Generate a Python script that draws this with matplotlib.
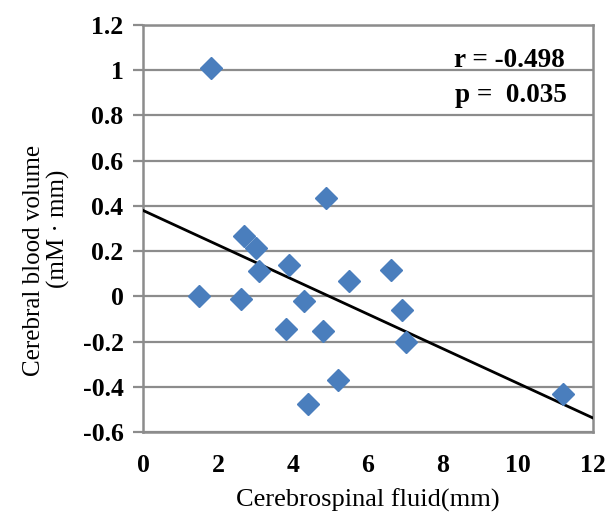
import numpy as np
import matplotlib.pyplot as plt

# CSF vs cerebral blood volume
csf = [1.8, 4.88, 2.7, 3.0, 3.1, 3.9, 5.5, 6.6, 1.5, 2.6, 4.3, 6.9, 3.8, 4.8, 7.0, 5.2, 4.4, 11.2]
cbv = [1.01, 0.435, 0.267, 0.215, 0.11, 0.14, 0.07, 0.115, 0.0, -0.01, -0.02, -0.06, -0.145, -0.155, -0.2, -0.37, -0.475, -0.43]

fit_intercept = 0.38
fit_slope = -0.0765

x_ticks = [0, 2, 4, 6, 8, 10, 12]
y_ticks = [-0.6, -0.4, -0.2, 0, 0.2, 0.4, 0.6, 0.8, 1, 1.2]
y_labels = ["-0.6", "-0.4", "-0.2", "0", "0.2", "0.4", "0.6", "0.8", "1", "1.2"]

plt.rcParams['font.family'] = ['Liberation Serif', 'DejaVu Serif']

W, H = 609, 514
fig = plt.figure(figsize=(W / 100, H / 100), dpi=100)
ax = fig.add_axes([143 / W, 1 - 432 / H, 450 / W, 407 / H])

grid_c = '#8c8c8c'
for y in y_ticks:
    ax.axhline(y, color=grid_c, lw=1.6, zorder=1)

xs = np.array([0, 12])
ax.plot(xs, fit_intercept + fit_slope * xs, color='black', lw=2, zorder=3)
ax.plot(csf, cbv, linestyle='none', marker='D', markersize=11,
        color='#4a7ebd', zorder=4)

ax.set_xlim(0, 12)
ax.set_ylim(-0.6, 1.2)
ax.set_xticks(x_ticks)
ax.set_yticks(y_ticks)
ax.set_yticklabels(y_labels)
for s in ax.spines.values():
    s.set_color(grid_c)
    s.set_linewidth(1.8)
ax.tick_params(axis='y', direction='out', length=7.5, width=1.6, color=grid_c,
               labelsize=18.5, pad=6.5)
ax.tick_params(axis='x', length=0, labelsize=18.5, pad=16)
for lbl in ax.get_xticklabels() + ax.get_yticklabels():
    lbl.set_fontweight('bold')

ax.set_xlabel('Cerebrospinal fluid(mm)', fontsize=19, labelpad=8)

# y label: two lines placed separately, as in the reference
fig.text(34 / W, 1 - 260 / H, 'Cerebral blood volume', rotation=90,
         ha='center', va='center', fontsize=18)
fig.text(58 / W, 1 - 229 / H, '(mM · mm)', rotation=90,
         ha='center', va='center', fontsize=18)

ax.text(565 / W, 1 - 67 / H, 'r = -0.498', transform=fig.transFigure,
        ha='right', va='baseline', fontsize=19.5, fontweight='bold')
ax.text(567 / W, 1 - 102 / H, 'p =  0.035', transform=fig.transFigure,
        ha='right', va='baseline', fontsize=19.5, fontweight='bold')

fig.savefig('out.png', dpi=100)
